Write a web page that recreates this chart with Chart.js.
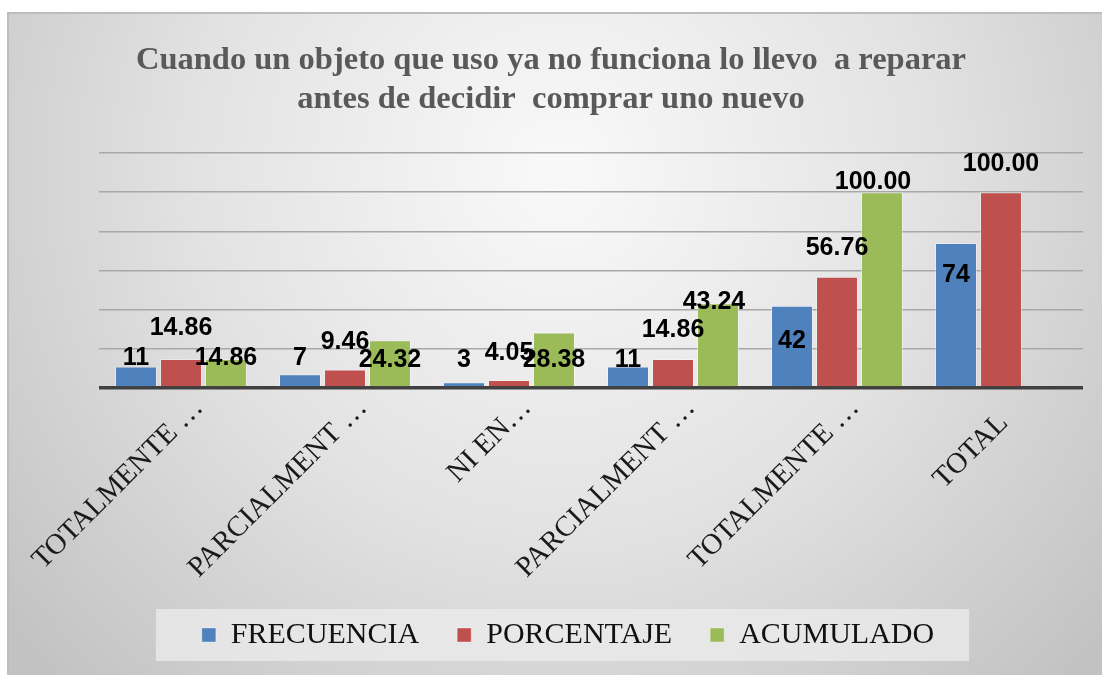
<!DOCTYPE html>
<html><head><meta charset="utf-8">
<script src="https://cdn.jsdelivr.net/npm/chart.js@4"></script>
<style>html,body{margin:0;padding:0;background:#fff;overflow:hidden}</style>
</head><body>
<canvas id="c" width="1102" height="675" style="width:1102px;height:675px;display:block"></canvas>
<script>
const categories = ['TOTALMENTE …', 'PARCIALMENT …', 'NI EN…', 'PARCIALMENT …', 'TOTALMENTE …', 'TOTAL   '];
const frecuencia = [11, 7, 3, 11, 42, 74];
const porcentaje = [14.86, 9.46, 4.05, 14.86, 56.76, 100.00];
const acumulado = [14.86, 24.32, 28.38, 43.24, 100.00, null];
const seriesNames = ['FRECUENCIA', 'PORCENTAJE', 'ACUMULADO'];
const yTicks = [0, 20, 40, 60, 80, 100, 120];
const titleLines = ['Cuando un objeto que uso ya no funciona lo llevo  a reparar', 'antes de decidir  comprar uno nuevo'];

const bgPlugin = {
  id: 'bg',
  afterLayout(chart) {
    const lg = chart.legend;
    if (lg) { lg.left += 17; lg.right += 17; }
  },
  beforeDraw(chart) {
    const ctx = chart.ctx;
    ctx.save();
    ctx.fillStyle = '#ffffff';
    ctx.fillRect(0, 0, chart.width, chart.height);
    const g = ctx.createRadialGradient(560, 170, 20, 560, 170, 720);
    g.addColorStop(0, '#f8f8f8');
    g.addColorStop(0.5, '#e2e2e2');
    g.addColorStop(1, '#c2c2c2');
    ctx.fillStyle = g;
    ctx.fillRect(8, 13, chart.width - 8, chart.height - 13);
    ctx.strokeStyle = '#bdbdbd';
    ctx.lineWidth = 2;
    ctx.beginPath();
    ctx.moveTo(8, chart.height); ctx.lineTo(8, 13); ctx.lineTo(chart.width, 13);
    ctx.stroke();
    const lg = chart.legend;
    if (lg && lg.legendHitBoxes && lg.legendHitBoxes.length) {
      const hb = lg.legendHitBoxes;
      const last = hb[hb.length - 1];
      const l = hb[0].left - 46, r = last.left + last.width + 35;
      const cy = hb[0].top + hb[0].height / 2;
      ctx.fillStyle = 'rgba(236,236,236,0.75)';
      ctx.fillRect(l, cy - 26, r - l, 52);
    }
    ctx.restore();
  }
};

const labelPlugin = {
  id: 'vlabels',
  afterDatasetsDraw(chart, args, opts) {
    const ctx = chart.ctx;
    ctx.save();
    ctx.font = 'bold 25px "Liberation Sans", Arial, sans-serif';
    ctx.fillStyle = '#000000';
    ctx.textAlign = 'center';
    ctx.textBaseline = 'middle';
    chart.data.datasets.forEach((ds, di) => {
      const meta = chart.getDatasetMeta(di);
      meta.data.forEach((el, i) => {
        const v = ds.data[i];
        if (v === null || v === undefined) return;
        const txt = di === 0 ? String(v) : v.toFixed(2);
        ctx.fillText(txt, el.x + opts.dx[di][i], el.y + opts.dy[di][i]);
      });
    });
    ctx.restore();
  }
};

new Chart(document.getElementById('c'), {
  type: 'bar',
  data: {
    labels: categories,
    datasets: [
      { label: seriesNames[0], data: frecuencia, backgroundColor: '#4f81bd', borderColor: 'rgba(255,255,255,0.35)', borderWidth: 1 },
      { label: seriesNames[1], data: porcentaje, backgroundColor: '#c0504d', borderColor: 'rgba(255,255,255,0.35)', borderWidth: 1 },
      { label: seriesNames[2], data: acumulado, backgroundColor: '#9bbb59', borderColor: 'rgba(255,255,255,0.35)', borderWidth: 1 }
    ]
  },
  options: {
    responsive: false,
    animation: false,
    devicePixelRatio: 1,
    categoryPercentage: 0.823,
    barPercentage: 0.933,
    layout: { padding: { top: 13, left: 10, right: 10, bottom: 15 } },
    scales: {
      x: {
        grid: { display: false },
        border: { display: false },
        ticks: {
          autoSkip: false, maxRotation: 45, minRotation: 45, padding: -5, labelOffset: 18,
          color: '#1a1a1a',
          font: { family: '"Liberation Serif", "Times New Roman", serif', size: 29 }
        },
        afterFit(scale) { scale.height = 194; }
      },
      y: {
        min: 0, max: 120,
        afterBuildTicks(scale) { scale.ticks = yTicks.map(v => ({ value: v })); },
        ticks: { display: false },
        border: { display: false },
        grid: {
          drawTicks: false,
          color: c => c.tick && c.tick.value === 0 ? '#404040' : '#a8a8a8',
          lineWidth: c => c.tick && c.tick.value === 0 ? 3.5 : 1.5
        },
        afterFit(scale) { scale.width = 89; }
      },
      yRight: {
        position: 'right',
        display: true,
        ticks: { display: false },
        grid: { display: false, drawTicks: false },
        border: { display: false },
        afterFit(scale) { scale.width = 9; }
      }
    },
    plugins: {
      title: {
        display: true,
        text: titleLines,
        color: '#595959',
        font: { family: '"Liberation Serif", "Times New Roman", serif', size: 32.5, weight: 'bold', lineHeight: 1.2 },
        padding: { top: 28.5, bottom: 33.5 }
      },
      legend: {
        position: 'bottom',
        labels: {
          boxWidth: 14, boxHeight: 14, padding: 38,
          color: '#111111',
          font: { family: '"Liberation Serif", "Times New Roman", serif', size: 30 }
        }
      },
      tooltip: { enabled: false },
      vlabels: {
        dy: [[-8, -16, -22, -6, 35, 32], [-31, -27, -27, -29, -29, -28], [-1, 20, 28, -1, -10, 0]],
        dx: [[0, 0, 0, 0, 0, 0], [0, 0, 0, 0, 0, 0], [0, 0, 0, -4, -9, 0]]
      }
    }
  },
  plugins: [bgPlugin, labelPlugin]
});
</script>
</body></html>
